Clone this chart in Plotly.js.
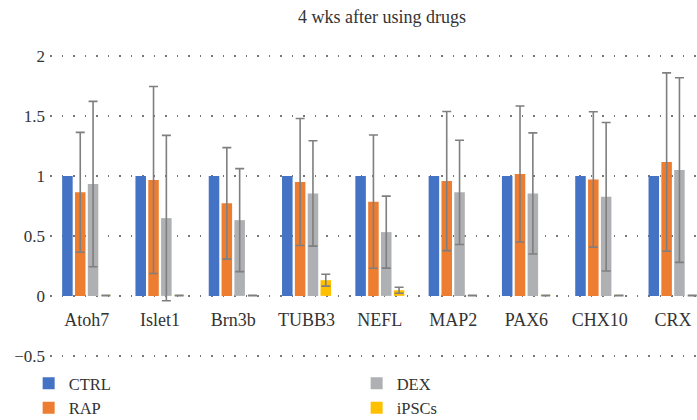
<!DOCTYPE html>
<html><head><meta charset="utf-8">
<script src="https://cdn.plot.ly/plotly-3.0.1.min.js"></script>
<style>html,body{margin:0;padding:0;background:#fff}#chart{width:697px;height:420px}</style>
</head><body><div id="chart"></div>
<script>
const genes = ['Atoh7','Islet1','Brn3b','TUBB3','NEFL','MAP2','PAX6','CHX10','CRX'];
const ctrl = [1,1,1,1,1,1,1,1,1];
const rap = [0.864,0.967,0.772,0.95,0.786,0.958,1.017,0.972,1.117];
const rapErr = [0.50,0.78,0.465,0.53,0.556,0.58,0.567,0.565,0.744];
const dex = [0.933,0.649,0.632,0.855,0.532,0.864,0.855,0.827,1.05];
const dexErr = [0.69,0.69,0.43,0.44,0.30,0.435,0.505,0.62,0.77];
const ipsc = [0.003,0.003,0.003,0.131,0.047,0.003,0.003,0.003,0.003];
const ipscErr = [0.002,0.002,0.002,0.05,0.025,0.002,0.002,0.002,0.002];

const FONT = 'Liberation Serif';
const errStyle = {color:'#7f7f7f', thickness:1.6, width:4.5};
function mk(name, y, err, color, rank){
  const t = {type:'bar', name:name, x:genes, y:y, marker:{color:color}, legendrank:rank};
  if (err) t.error_y = Object.assign({type:'data', array:err, visible:true}, errStyle);
  return t;
}
const data = [
  mk('CTRL', ctrl, null, '#4472C4', 1),
  mk('RAP', rap, rapErr, '#ED7D31', 3),
  mk('DEX', dex, dexErr, '#AFB0B3', 2),
  mk('iPSCs', ipsc, ipscErr, '#FFC000', 4)
];
const layout = {
  width:697, height:420,
  margin:{l:50, r:0, t:54.5, b:63.1, autoexpand:false},
  paper_bgcolor:'#fff', plot_bgcolor:'#fff',
  font:{family:FONT, color:'#333', size:17},
  title:{text:'4 wks after using drugs', font:{family:FONT, size:18, color:'#333'}, x:0.513, xref:'paper', xanchor:'center', y:0.96, yanchor:'middle'},
  barmode:'group', bargap:0.3, bargroupgap:0.18,
  showlegend:true,
  legend:{orientation:'h', x:-0.033, xanchor:'left', y:-0.03, yanchor:'top', entrywidth:283, entrywidthmode:'pixels',
          font:{family:FONT, size:16.5, color:'#333'}, itemclick:false, tracegroupgap:0, bgcolor:'rgba(0,0,0,0)'},
  xaxis:{type:'category', range:[-0.5, 8.327], anchor:'free', position:0.2024, showgrid:false, zeroline:false, showline:false,
         ticks:'', ticklabelstandoff:11, tickfont:{family:FONT, size:18, color:'#333'}},
  yaxis:{range:[-0.51, 2.01], dtick:0.5, tick0:0, showgrid:true, gridcolor:'#777', gridwidth:1.5, griddash:'1.5px,10px',
         zeroline:false, showline:false, ticks:'', ticklabelstandoff:4, tickfont:{family:FONT, size:17, color:'#333'}}
};
Plotly.newPlot('chart', data, layout, {staticPlot:true, displayModeBar:false});
</script>
</body></html>
